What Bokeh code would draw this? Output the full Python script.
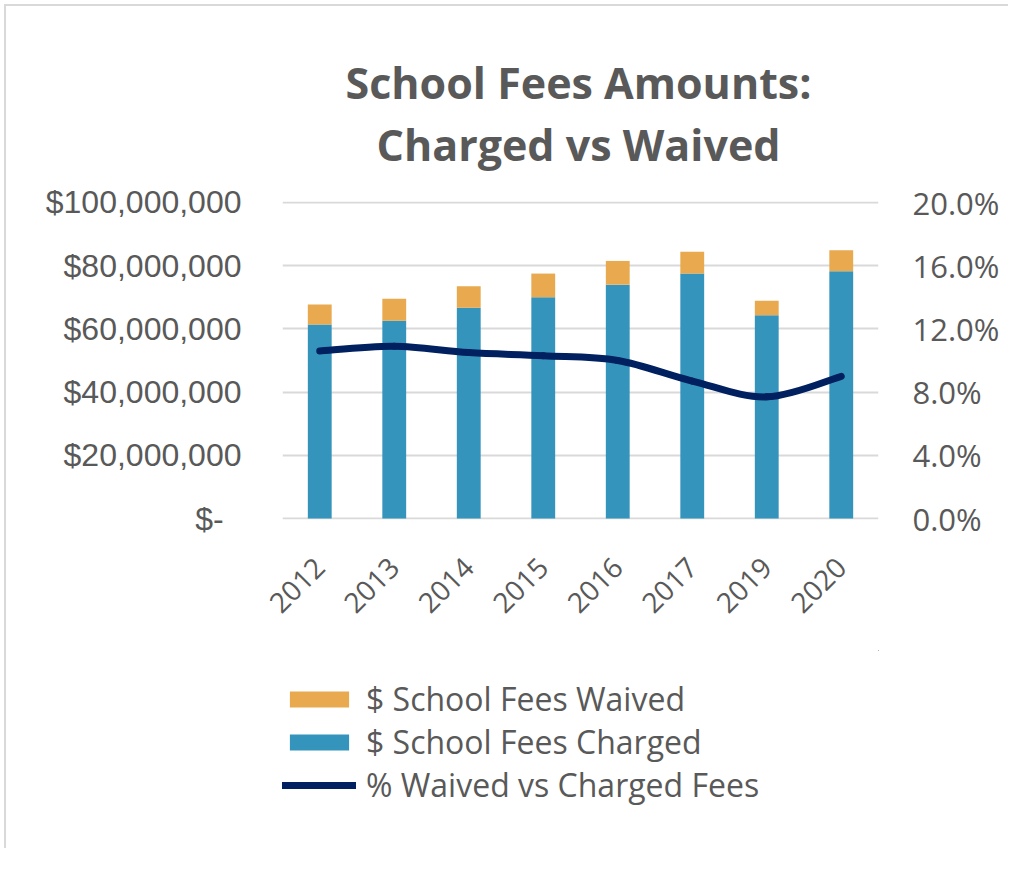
import math
from bokeh.plotting import figure, ColumnDataSource
from bokeh.models import Range1d, LinearAxis, FixedTicker, Legend, LegendItem
from bokeh.core.properties import value
from bokeh.layouts import column
from bokeh.embed import file_html
from bokeh.resources import INLINE

# ---- data ----
years = ["2012", "2013", "2014", "2015", "2016", "2017", "2019", "2020"]
charged = [61.4e6, 62.6e6, 66.7e6, 70.0e6, 74.0e6, 77.5e6, 64.3e6, 78.2e6]
waived = [6.3e6, 6.9e6, 6.8e6, 7.5e6, 7.5e6, 6.9e6, 4.6e6, 6.7e6]
pct_waived = [10.6, 10.9, 10.5, 10.3, 10.0, 8.7, 7.7, 9.0]

left_ticks = [0, 20e6, 40e6, 60e6, 80e6, 100e6]
left_labels = ["$-\u00a0\u00a0", "$20,000,000", "$40,000,000", "$60,000,000", "$80,000,000", "$100,000,000"]
right_ticks = [0, 4, 8, 12, 16, 20]
right_labels = ["0.0%", "4.0%", "8.0%", "12.0%", "16.0%", "20.0%"]
legend_labels = ["$ School Fees Waived", "$ School Fees Charged", "% Waived vs Charged Fees"]
title_lines = ["School Fees Amounts:", "Charged vs Waived"]

BLUE = "#3594BC"
ORANGE = "#E8A94F"
NAVY = "#002060"
GRAY = "#595959"
GRID = "#D9D9D9"

W, HT, H1, H2 = 1004, 175, 469, 200

# ---- title strip ----
tfig = figure(width=W, height=HT, output_backend="svg", toolbar_location=None,
              x_range=Range1d(0, 1), y_range=Range1d(0, 1),
              x_axis_type=None, y_axis_type=None, min_border=0)
tfig.outline_line_color = None
tfig.xgrid.visible = False
tfig.ygrid.visible = False
tsrc = ColumnDataSource(dict(x=[0.5, 0.5], y=[0, 0], text=title_lines, dy=[-99, -37]))
tfig.text(x="x", y="y", text="text", y_offset="dy", x_offset=-2, source=tsrc,
          text_font=value("Open Sans"), text_font_style="bold", text_font_size="43px",
          text_color=GRAY, text_align="center", text_baseline="alphabetic")

# ---- main chart ----
xs = list(range(len(years)))
src = ColumnDataSource(dict(x=xs, charged=charged, waived=waived))

p = figure(width=W, height=H1, output_backend="svg", toolbar_location=None,
           x_range=Range1d(-0.5, len(years) - 0.5),
           y_range=Range1d(-0.3e6, 100.3e6),
           min_border_left=276, min_border_right=132, min_border_top=20, min_border_bottom=131)
p.extra_y_ranges = {"pct": Range1d(-0.06, 20.06)}
p.outline_line_color = None

bars = p.vbar_stack(["charged", "waived"], x="x", width=0.32, color=[BLUE, ORANGE],
                    line_color=None, source=src)

# smoothed line (Catmull-Rom style bezier through the data points)
n = len(xs)
x0, y0, x1, y1, cx0, cy0, cx1, cy1 = [], [], [], [], [], [], [], []
for i in range(n - 1):
    pa = i - 1 if i > 0 else i
    pb = i + 2 if i + 2 < n else i + 1
    x0.append(xs[i]); y0.append(pct_waived[i])
    x1.append(xs[i + 1]); y1.append(pct_waived[i + 1])
    cx0.append(xs[i] + (xs[i + 1] - xs[pa]) / 6.0)
    cy0.append(pct_waived[i] + (pct_waived[i + 1] - pct_waived[pa]) / 6.0)
    cx1.append(xs[i + 1] - (xs[pb] - xs[i]) / 6.0)
    cy1.append(pct_waived[i + 1] - (pct_waived[pb] - pct_waived[i]) / 6.0)
line = p.bezier(x0=x0, y0=y0, x1=x1, y1=y1, cx0=cx0, cy0=cy0, cx1=cx1, cy1=cy1,
                line_color=NAVY, line_width=7, line_cap="round", y_range_name="pct")

# axes
p.xaxis.ticker = FixedTicker(ticks=xs)
p.xaxis.major_label_overrides = {i: y for i, y in zip(xs, years)}
p.xaxis.major_label_orientation = math.pi / 4
p.xaxis.major_label_text_font = "Open Sans"
p.xaxis.major_label_text_font_size = "28px"
p.xaxis.major_label_text_color = GRAY
p.xaxis.major_label_standoff = 37
p.xaxis.axis_line_color = None
p.xaxis.major_tick_line_color = None
p.xaxis.minor_tick_line_color = None

p.yaxis.ticker = FixedTicker(ticks=left_ticks)
p.yaxis.major_label_overrides = {t: l for t, l in zip(left_ticks, left_labels)}
p.yaxis.major_label_text_font = "Liberation Sans"
p.yaxis.major_label_text_font_size = "32px"
p.yaxis.major_label_text_color = GRAY
p.yaxis.major_label_standoff = 35
p.yaxis.axis_line_color = None
p.yaxis.major_tick_line_color = None
p.yaxis.minor_tick_line_color = None

ra = LinearAxis(y_range_name="pct", ticker=FixedTicker(ticks=right_ticks))
ra.major_label_overrides = {t: l for t, l in zip(right_ticks, right_labels)}
ra.major_label_text_font = "Open Sans"
ra.major_label_text_font_size = "31px"
ra.major_label_text_color = GRAY
ra.major_label_standoff = 28
ra.axis_line_color = None
ra.major_tick_line_color = None
ra.minor_tick_line_color = None
p.add_layout(ra, "right")

p.xgrid.grid_line_color = None
p.ygrid.ticker = FixedTicker(ticks=left_ticks)
p.ygrid.grid_line_color = GRID
p.ygrid.grid_line_width = 2

# ---- legend strip (proxy renderers lie outside its visible ranges) ----
q = figure(width=W, height=H2, output_backend="svg", toolbar_location=None,
           x_range=Range1d(-3, -2), y_range=Range1d(-3, -2),
           x_axis_type=None, y_axis_type=None, min_border=0)
q.outline_line_color = None
q.xgrid.visible = False
q.ygrid.visible = False
lsrc = ColumnDataSource(dict(x=xs, waived=waived, charged=charged, pct=pct_waived))
r_w = q.vbar(x="x", top="waived", width=0.32, fill_color=ORANGE, line_color=None, source=lsrc)
r_c = q.vbar(x="x", top="charged", width=0.32, fill_color=BLUE, line_color=None, source=lsrc)
r_l = q.line(x="x", y="pct", line_color=NAVY, line_width=7, line_cap="round", source=lsrc)

legend = Legend(items=[
    LegendItem(label=legend_labels[0], renderers=[r_w]),
    LegendItem(label=legend_labels[1], renderers=[r_c]),
    LegendItem(label=legend_labels[2], renderers=[r_l]),
], location=(0, 44), orientation="vertical", padding=0, margin=0, spacing=0,
    glyph_width=74, glyph_height=20, label_standoff=10,
    label_text_font="Open Sans", label_text_font_size="32px", label_text_color=GRAY,
    border_line_color=None, background_fill_alpha=0)
q.add_layout(legend, "center")

layout = column(tfig, p, q, spacing=0,
                styles={"margin-left": "6px", "margin-top": "6px", "box-shadow": "-2px -2px 0 0 #d9d9d9"})

open("out.html", "w").write(file_html(layout, INLINE))
